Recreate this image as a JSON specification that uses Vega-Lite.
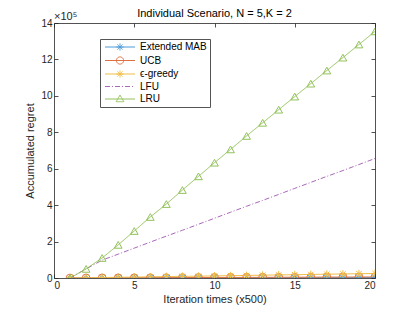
{
  "$schema": "https://vega.github.io/schema/vega-lite/v6.json",
  "autosize": "none",
  "width": 321,
  "height": 255,
  "padding": {"left": 54, "top": 23, "right": 40, "bottom": 34},
  "background": "white",
  "config": {
    "font": "Liberation Sans",
    "view": {"stroke": null},
    "axis": {"domainColor": "#262626", "tickColor": "#262626", "labelColor": "#262626", "titleColor": "#262626", "labelFontSize": 10, "titleFontSize": 11, "titleFontWeight": "normal", "grid": false, "tickSize": -4, "domainWidth": 0.8, "tickWidth": 0.8}
  },
  "title": {"text": "Individual Scenario, N = 5,K = 2", "fontSize": 11, "fontWeight": "normal", "color": "#000000", "offset": -8},
  "data": {"values": [
    {"x":1,"s":"Extended MAB","y":0},{"x":2,"s":"Extended MAB","y":0.002},{"x":3,"s":"Extended MAB","y":0.003},{"x":4,"s":"Extended MAB","y":0.005},{"x":5,"s":"Extended MAB","y":0.006},{"x":6,"s":"Extended MAB","y":0.008},{"x":7,"s":"Extended MAB","y":0.009},{"x":8,"s":"Extended MAB","y":0.011},{"x":9,"s":"Extended MAB","y":0.012},{"x":10,"s":"Extended MAB","y":0.014},{"x":11,"s":"Extended MAB","y":0.015},{"x":12,"s":"Extended MAB","y":0.017},{"x":13,"s":"Extended MAB","y":0.018},{"x":14,"s":"Extended MAB","y":0.02},{"x":15,"s":"Extended MAB","y":0.021},{"x":16,"s":"Extended MAB","y":0.023},{"x":17,"s":"Extended MAB","y":0.024},{"x":18,"s":"Extended MAB","y":0.026},{"x":19,"s":"Extended MAB","y":0.027},{"x":20,"s":"Extended MAB","y":0.029},
    {"x":1,"s":"UCB","y":0},{"x":2,"s":"UCB","y":0.004},{"x":3,"s":"UCB","y":0.007},{"x":4,"s":"UCB","y":0.01},{"x":5,"s":"UCB","y":0.013},{"x":6,"s":"UCB","y":0.016},{"x":7,"s":"UCB","y":0.019},{"x":8,"s":"UCB","y":0.022},{"x":9,"s":"UCB","y":0.025},{"x":10,"s":"UCB","y":0.028},{"x":11,"s":"UCB","y":0.031},{"x":12,"s":"UCB","y":0.034},{"x":13,"s":"UCB","y":0.037},{"x":14,"s":"UCB","y":0.04},{"x":15,"s":"UCB","y":0.043},{"x":16,"s":"UCB","y":0.046},{"x":17,"s":"UCB","y":0.049},{"x":18,"s":"UCB","y":0.052},{"x":19,"s":"UCB","y":0.055},{"x":20,"s":"UCB","y":0.058},
    {"x":1,"s":"ϵ-greedy","y":0},{"x":2,"s":"ϵ-greedy","y":0.01},{"x":3,"s":"ϵ-greedy","y":0.025},{"x":4,"s":"ϵ-greedy","y":0.04},{"x":5,"s":"ϵ-greedy","y":0.05},{"x":6,"s":"ϵ-greedy","y":0.065},{"x":7,"s":"ϵ-greedy","y":0.08},{"x":8,"s":"ϵ-greedy","y":0.09},{"x":9,"s":"ϵ-greedy","y":0.1},{"x":10,"s":"ϵ-greedy","y":0.115},{"x":11,"s":"ϵ-greedy","y":0.13},{"x":12,"s":"ϵ-greedy","y":0.14},{"x":13,"s":"ϵ-greedy","y":0.155},{"x":14,"s":"ϵ-greedy","y":0.17},{"x":15,"s":"ϵ-greedy","y":0.18},{"x":16,"s":"ϵ-greedy","y":0.195},{"x":17,"s":"ϵ-greedy","y":0.21},{"x":18,"s":"ϵ-greedy","y":0.22},{"x":19,"s":"ϵ-greedy","y":0.235},{"x":20,"s":"ϵ-greedy","y":0.25},
    {"x":1,"s":"LFU","y":0},{"x":2,"s":"LFU","y":0.5},{"x":3,"s":"LFU","y":0.98},{"x":4,"s":"LFU","y":1.31},{"x":5,"s":"LFU","y":1.64},{"x":6,"s":"LFU","y":1.97},{"x":7,"s":"LFU","y":2.3},{"x":8,"s":"LFU","y":2.62},{"x":9,"s":"LFU","y":2.95},{"x":10,"s":"LFU","y":3.28},{"x":11,"s":"LFU","y":3.61},{"x":12,"s":"LFU","y":3.94},{"x":13,"s":"LFU","y":4.26},{"x":14,"s":"LFU","y":4.59},{"x":15,"s":"LFU","y":4.92},{"x":16,"s":"LFU","y":5.25},{"x":17,"s":"LFU","y":5.58},{"x":18,"s":"LFU","y":5.9},{"x":19,"s":"LFU","y":6.23},{"x":20,"s":"LFU","y":6.56},
    {"x":1,"s":"LRU","y":0},{"x":2,"s":"LRU","y":0.5},{"x":3,"s":"LRU","y":1.1},{"x":4,"s":"LRU","y":1.82},{"x":5,"s":"LRU","y":2.58},{"x":6,"s":"LRU","y":3.35},{"x":7,"s":"LRU","y":4.06},{"x":8,"s":"LRU","y":4.83},{"x":9,"s":"LRU","y":5.58},{"x":10,"s":"LRU","y":6.33},{"x":11,"s":"LRU","y":7.06},{"x":12,"s":"LRU","y":7.8},{"x":13,"s":"LRU","y":8.52},{"x":14,"s":"LRU","y":9.24},{"x":15,"s":"LRU","y":9.96},{"x":16,"s":"LRU","y":10.67},{"x":17,"s":"LRU","y":11.39},{"x":18,"s":"LRU","y":12.1},{"x":19,"s":"LRU","y":12.82},{"x":20,"s":"LRU","y":13.54}
  ]},
  "resolve": {"axis": {"x": "independent", "y": "independent"}},
  "layer": [
    {
      "mark": {"type": "line", "strokeWidth": 1, "clip": true},
      "encoding": {
        "x": {"field": "x", "type": "quantitative", "scale": {"domain": [0, 20], "nice": false}, "axis": {"title": "Iteration times (x500)", "values": [0, 5, 10, 15, 20], "labelPadding": 6, "titlePadding": 3}},
        "y": {"field": "y", "type": "quantitative", "scale": {"domain": [0, 14], "nice": false}, "axis": {"title": "Accumulated regret", "values": [0, 2, 4, 6, 8, 10, 12, 14], "labelPadding": 6, "titlePadding": 5}},
        "color": {"field": "s", "type": "nominal", "scale": {"domain": ["Extended MAB", "UCB", "ϵ-greedy", "LFU", "LRU"], "range": ["#4d9ad6", "#e0703f", "#f0bd45", "#a968b8", "#93c25a"]},
          "legend": {"title": null, "orient": "none", "legendX": 46, "legendY": 16, "padding": 3, "strokeColor": "#555555", "fillColor": "white", "labelFontSize": 10, "labelColor": "#000000", "symbolSize": 36, "labelOffset": 27, "rowPadding": 1.5, "symbolStrokeWidth": 1,
            "encode": {"symbols": {"update": {
              "shape": {"signal": "datum.value === 'LFU' ? 'M-1,0H9' : datum.value === 'LRU' ? 'M-1,0H9M4,-1.3L5.3,0.9L2.7,0.9Z' : datum.value === 'UCB' ? 'M-1,0H9M5.2,0A1.2,1.2 0 1,1 2.8,0A1.2,1.2 0 1,1 5.2,0' : 'M-1,0H9M4,-1.2V1.2M2.8,0H5.2M3.15,-0.85L4.85,0.85M3.15,0.85L4.85,-0.85'"},
              "strokeDash": {"signal": "datum.value === 'LFU' ? [5,2,1,2] : [1,0]"},
              "fill": {"value": "transparent"},
              "strokeWidth": {"value": 1}
            }}}}},
        "strokeDash": {"field": "s", "type": "nominal", "scale": {"domain": ["Extended MAB", "UCB", "ϵ-greedy", "LFU", "LRU"], "range": [[1, 0], [1, 0], [1, 0], [5, 2, 1, 2], [1, 0]]}, "legend": null}
      }
    },
    {
      "transform": [{"filter": "datum.s !== 'LFU'"}],
      "mark": {"type": "point", "filled": false, "strokeWidth": 1, "opacity": 1, "clip": true},
      "encoding": {
        "x": {"field": "x", "type": "quantitative", "axis": null},
        "y": {"field": "y", "type": "quantitative", "axis": null},
        "stroke": {"field": "s", "type": "nominal", "scale": {"domain": ["Extended MAB", "UCB", "ϵ-greedy", "LRU"], "range": ["#4d9ad6", "#e0703f", "#f0bd45", "#93c25a"]}, "legend": null},
        "shape": {"field": "s", "type": "nominal", "scale": {"domain": ["Extended MAB", "UCB", "ϵ-greedy", "LRU"], "range": ["M0,-1V1M-1,0H1M-0.7,-0.7L0.7,0.7M-0.7,0.7L0.7,-0.7", "circle", "M0,-1V1M-1,0H1M-0.7,-0.7L0.7,0.7M-0.7,0.7L0.7,-0.7", "triangle-up"]}, "legend": null},
        "size": {"value": 60}
      }
    },
    {
      "data": {"values": [{"lbl": "×10⁵"}]},
      "mark": {"type": "text", "align": "left", "baseline": "alphabetic", "dy": -3, "fontSize": 11, "color": "#262626"},
      "encoding": {
        "x": {"datum": 0, "type": "quantitative", "axis": {"orient": "top", "labels": false, "title": null, "values": [0, 5, 10, 15, 20]}},
        "y": {"datum": 14, "type": "quantitative", "axis": {"orient": "right", "labels": false, "title": null, "values": [0, 2, 4, 6, 8, 10, 12, 14]}},
        "text": {"field": "lbl"}
      }
    }
  ]
}
